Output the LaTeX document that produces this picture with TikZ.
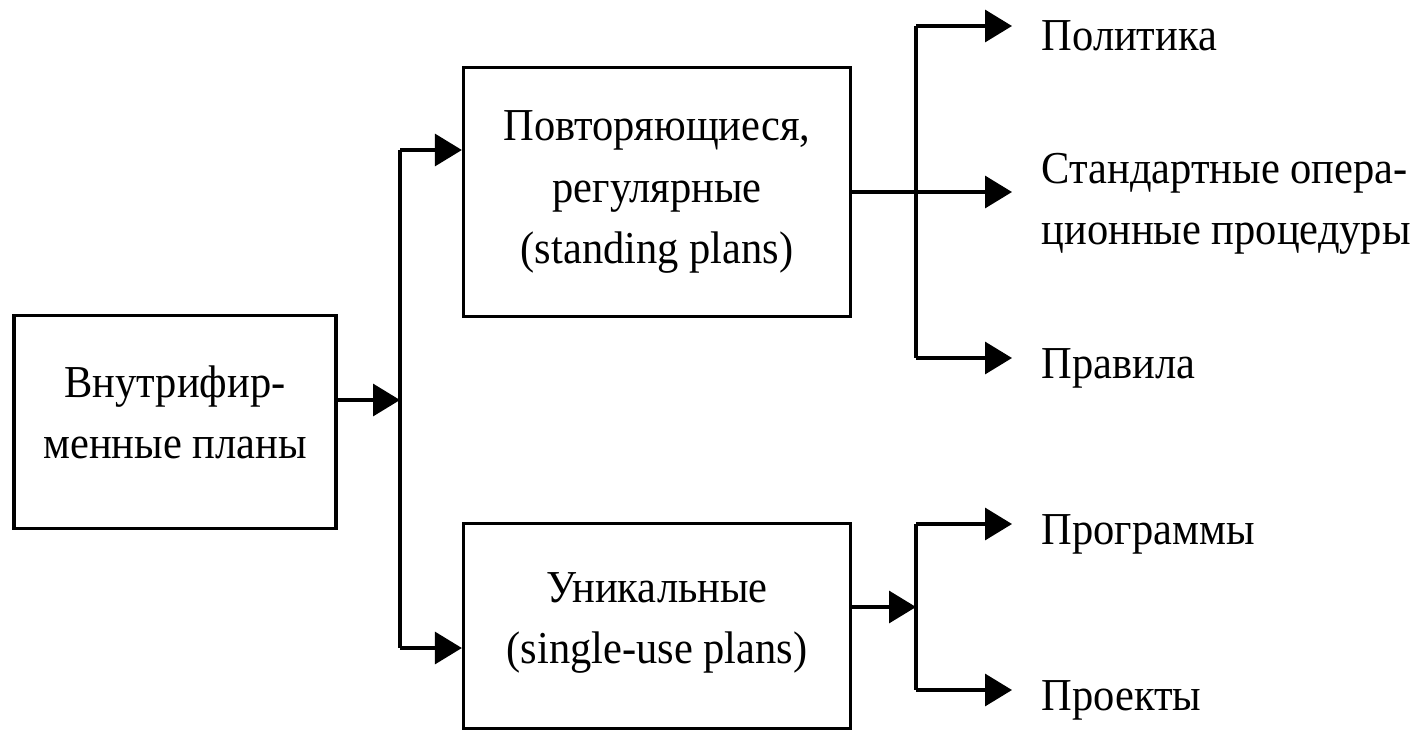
\documentclass[tikz,border=0pt]{standalone}
\usepackage{fontspec}
\setmainfont[FakeStretch=0.93]{Liberation Serif}
\usepackage{tikz}
\usetikzlibrary{calc, arrows.meta}

\begin{document}
\begin{tikzpicture}[x=0.02cm, y=-0.02cm, line width=1.9pt, >={Triangle[length=5.4mm, width=6.4mm]}]
		\tikzstyle{planbox}=[rectangle, draw, line width=1.9pt, align=center]
		\tikzstyle{kind}=[anchor=west, inner xsep=0.56cm, inner ysep=0pt, align=left]
		\tikzstyle{every node}=[font=\fontsize{26}{35}\selectfont]

		\useasboundingbox (0,0) rectangle (1420,731);

		\node[planbox, minimum width=6.44cm, minimum height=4.26cm] (internalPlans) at (175,422) {
			Внутрифир-\\менные планы\\[-24pt]\mbox{}
		};

		\node[planbox, minimum width=7.74cm, minimum height=4.98cm] (standingPlans) at (657,192) {
			Повторяющиеся,\\регулярные\\(standing plans)
		};

		\node[planbox, minimum width=7.74cm, minimum height=4.1cm] (singlePlans) at (657,626) {
			Уникальные\\(single-use plans)\\[-26pt]\mbox{}
		};

		\node[kind] (policy) at (1012,36) {Политика};
		\node[kind] (procedures) at (1012,204) {Стандартные опера-\\ционные процедуры};
		\node[kind] (rules) at (1012,368) {Правила};
		\node[kind] (programs) at (1012,534) {Программы};
		\node[kind] (projects) at (1012,700) {Проекты};

		\coordinate (splitIn) at (400,400);
		\coordinate (splitTop) at (400,150);
		\coordinate (splitBot) at (400,648);
		\coordinate (standTop) at (916,26);
		\coordinate (standMid) at (916,192);
		\coordinate (standBot) at (916,358);
		\coordinate (singleTop) at (916,524);
		\coordinate (singleMid) at (916,607);
		\coordinate (singleBot) at (916,690);

		\draw[->] (internalPlans.east |- splitIn) -- (splitIn);
		\draw (splitTop) -- (splitBot);
		\draw[->] (splitTop) -- (splitTop -| standingPlans.west);
		\draw[->] (splitBot) -- (splitBot -| singlePlans.west);

		\draw (standTop) -- (standBot);
		\draw[->] (standingPlans.east |- standMid) -- (standMid -| procedures.west);
		\draw[->] (standTop) -- (standTop -| policy.west);
		\draw[->] (standBot) -- (standBot -| rules.west);

		\draw[->] (singlePlans.east |- singleMid) -- (singleMid);
		\draw (singleTop) -- (singleBot);
		\draw[->] (singleTop) -- (singleTop -| programs.west);
		\draw[->] (singleBot) -- (singleBot -| projects.west);

	\end{tikzpicture}
\end{document}
